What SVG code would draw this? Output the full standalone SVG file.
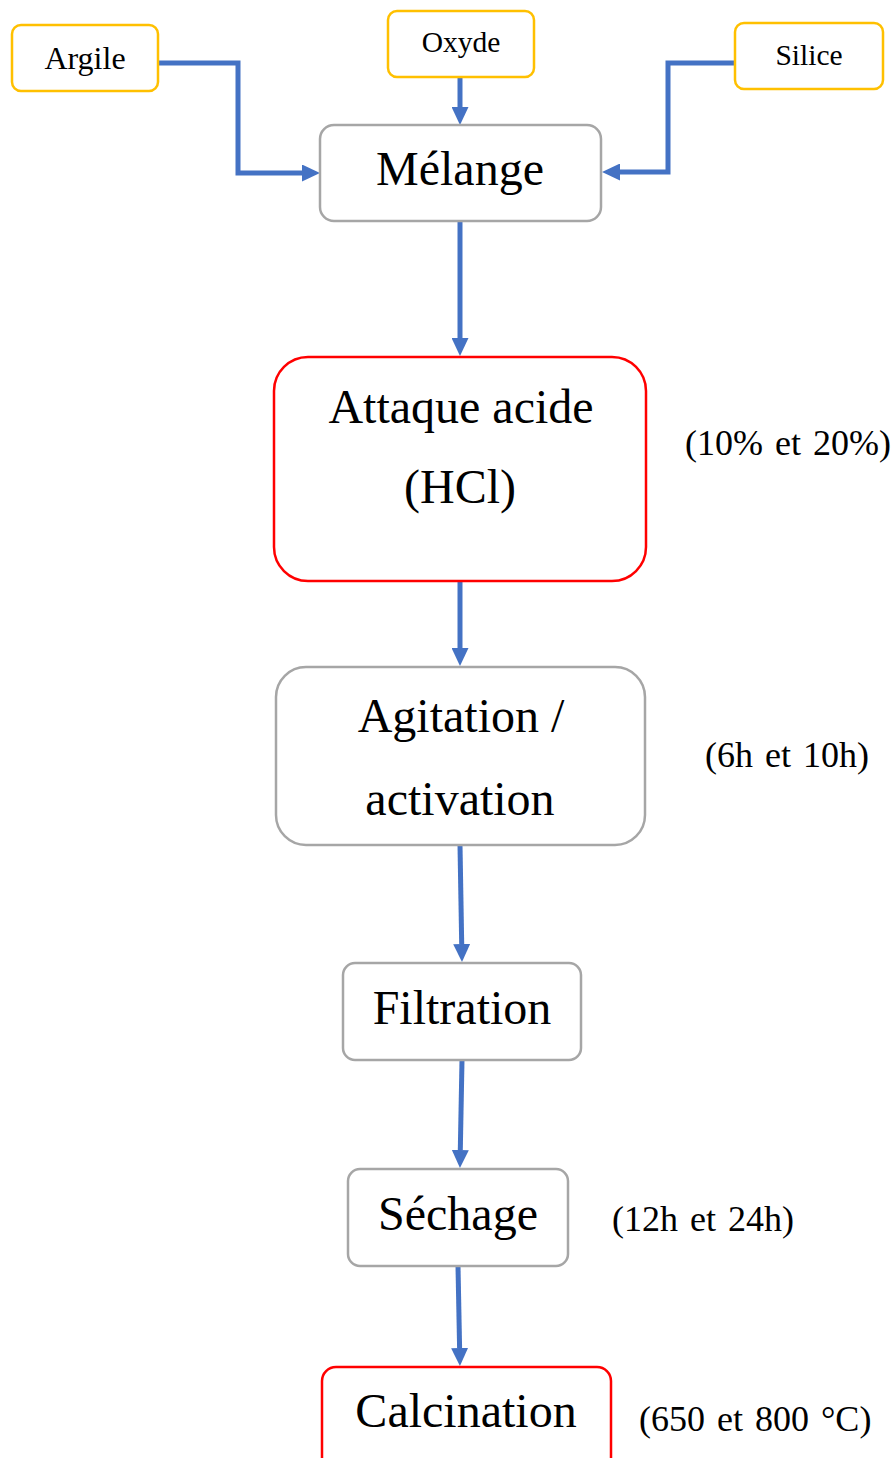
<svg xmlns="http://www.w3.org/2000/svg" width="895" height="1458" viewBox="0 0 895 1458">
<style>
.t{font-family:"Liberation Serif","Times New Roman",serif;fill:#000;text-anchor:middle}
.in{fill:#fff;stroke:#FFC000;stroke-width:2.5}
.st{fill:#fff;stroke:#A6A6A6;stroke-width:2.5}
.rd{fill:#fff;stroke:#FF0000;stroke-width:2.5}
.c{fill:none;stroke:#4472C4;stroke-width:5;marker-end:url(#ah)}
.big{font-size:48px}
.note{font-size:36px;text-anchor:start;word-spacing:3px}
</style>
<defs>
<marker id="ah" markerUnits="userSpaceOnUse" markerWidth="18" markerHeight="17" viewBox="0 0 18 17" refX="0" refY="8.5" orient="auto">
<path d="M0,0 L18,8.5 L0,17 z" fill="#4472C4"/>
</marker>
</defs>
<g id="connectors">
<path class="c" d="M158,63 H238 V173 H302"/>
<path class="c" d="M460,77 V107"/>
<path class="c" d="M735,63 H668 V172 H620"/>
<path class="c" d="M460,221 V338"/>
<path class="c" d="M460,581 V648"/>
<path class="c" d="M460,845 L461.7,944"/>
<path class="c" d="M462,1060 L460.3,1150"/>
<path class="c" d="M458,1266 L459.6,1348"/>
</g>
<g id="argile"><rect class="in" x="12" y="25" width="146" height="66" rx="9"/><text class="t" x="85" y="69" font-size="32">Argile</text></g>
<g id="oxyde"><rect class="in" x="388" y="11" width="146" height="66" rx="9"/><text class="t" x="461" y="52" font-size="29.5">Oxyde</text></g>
<g id="silice"><rect class="in" x="735" y="23" width="148" height="66" rx="9"/><text class="t" x="809" y="65" font-size="29.5">Silice</text></g>
<g id="melange"><rect class="st" x="320" y="125" width="281" height="96" rx="14"/><text class="t big" x="460" y="185">Mélange</text></g>
<g id="attaque"><rect class="rd" x="274" y="357" width="372" height="224" rx="34"/><text class="t big" x="461" y="423">Attaque acide</text><text class="t big" x="460" y="503">(HCl)</text></g>
<g id="note-attaque"><text class="t note" x="685" y="455">(10% et 20%)</text></g>
<g id="agitation"><rect class="st" x="276" y="667" width="369" height="178" rx="30"/><text class="t big" x="461" y="732">Agitation /</text><text class="t big" x="460" y="815">activation</text></g>
<g id="note-agitation"><text class="t note" x="705" y="767">(6h et 10h)</text></g>
<g id="filtration"><rect class="st" x="343" y="963" width="238" height="97" rx="12"/><text class="t big" x="462" y="1024">Filtration</text></g>
<g id="sechage"><rect class="st" x="348" y="1169" width="220" height="97" rx="12"/><text class="t big" x="458" y="1230">Séchage</text></g>
<g id="note-sechage"><text class="t note" x="612" y="1231">(12h et 24h)</text></g>
<g id="calcination"><rect class="rd" x="322" y="1367" width="289" height="110" rx="14"/><text class="t big" x="466" y="1427">Calcination</text></g>
<g id="note-calcination"><text class="t note" x="639" y="1431">(650 et 800 °C)</text></g>
</svg>
